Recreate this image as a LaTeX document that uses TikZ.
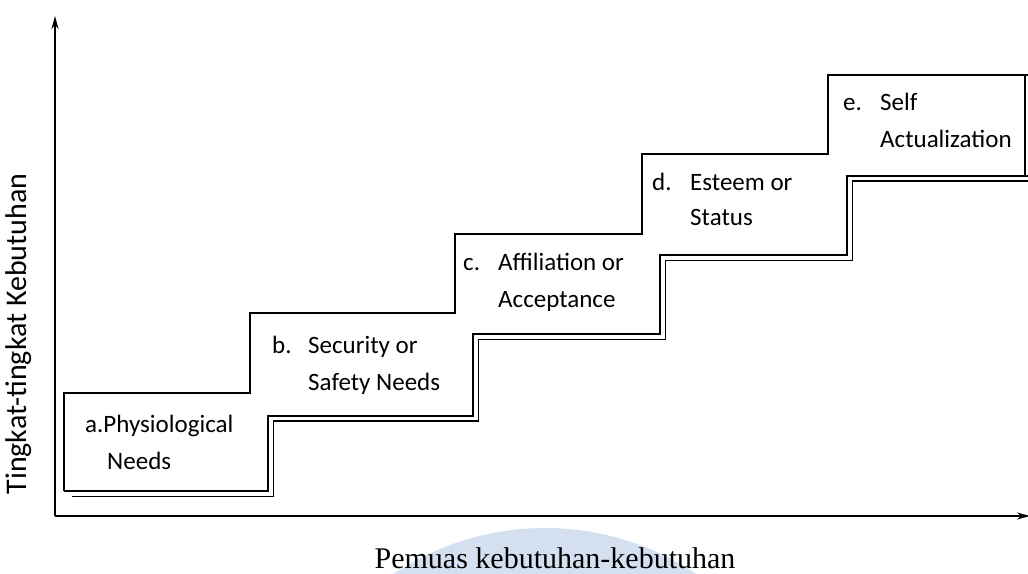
\documentclass[tikz,border=0pt]{standalone}
\usepackage{fontspec}
\newfontfamily\stepfont{Carlito}
\newfontfamily\axisfont{Liberation Serif}
\usetikzlibrary{arrows.meta}
\definecolor{wmblue}{RGB}{212,223,240}
\tikzset{
  upperline/.style={line width=2.2pt, line join=miter},
  outerline/.style={line width=2.2pt, line join=miter},
  innerline/.style={line width=1.1pt, line join=miter},
  axisline/.style={line width=1.8pt, -{Stealth[length=13pt,width=7pt]}},
  steplabel/.style={anchor=base west, inner sep=0pt, font=\stepfont\fontsize{25}{30}\selectfont},
}
\begin{document}
\begin{tikzpicture}[x=1pt,y=-1pt]
\useasboundingbox (0,0) rectangle (1028,573);
\clip (0,0) rectangle (1028,573);
% watermark
\fill[wmblue] (545,800) circle (272);
% axes
\coordinate (origin) at (55,516);
\coordinate (ytip) at (55,16);
\coordinate (xtip) at (1030,516);
\draw[axisline] (origin) -- (ytip);
\draw[axisline] (origin) -- (xtip);
% staircase upper outline
\draw[upperline] (64,491) -- (64,393) -- (250,393) -- (250,313) -- (455,313) -- (455,234)
  -- (642,234) -- (642,154) -- (828,154) -- (828,75) -- (1028,75);
% lower double line
\draw[outerline] (64,491) -- (268,491) -- (268,416) -- (473,416) -- (473,334) -- (660,334)
  -- (660,255) -- (847,255) -- (847,176) -- (1028,176);
\draw[innerline] (72,496.5) -- (273.5,496.5) -- (273.5,421) -- (478.5,421) -- (478.5,339.5)
  -- (665.5,339.5) -- (665.5,260.5) -- (852.5,260.5) -- (852.5,181) -- (1028,181);
\draw[innerline] (1025,75) -- (1025,176);
% labels
\node[steplabel] (a1) at (85,432) {a.Physiological};
\node[steplabel] (a2) at (107,469) {Needs};
\node[steplabel] (b0) at (272,353) {b.};
\node[steplabel] (b1) at (308,353) {Security or};
\node[steplabel] (b2) at (308,390) {Safety Needs};
\node[steplabel] (c0) at (463,270) {c.};
\node[steplabel] (c1) at (498,270) {Affiliation or};
\node[steplabel] (c2) at (498,307) {Acceptance};
\node[steplabel] (d0) at (652,190) {d.};
\node[steplabel] (d1) at (690,190) {Esteem or};
\node[steplabel] (d2) at (690,225) {Status};
\node[steplabel] (e0) at (843,110) {e.};
\node[steplabel] (e1) at (880,110) {Self};
\node[steplabel] (e2) at (880,147) {Actualization};
% axis titles
\node[anchor=base, rotate=90, inner sep=0pt, font=\stepfont\fontsize{30}{36}\selectfont] (ylab) at (27,334) {Tingkat-tingkat Kebutuhan};
\node[anchor=base, inner sep=0pt, font=\axisfont\fontsize{30}{36}\selectfont] (xlab) at (555,568) {Pemuas kebutuhan-kebutuhan};
\end{tikzpicture}
\end{document}
